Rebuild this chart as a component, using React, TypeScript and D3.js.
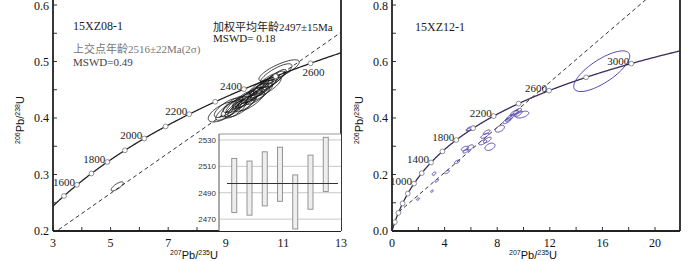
import React from 'react';
import * as d3 from 'd3';

// decay constants (per year)
const L238 = 1.55125e-10;
const L235 = 9.8485e-10;

// left panel: 15XZ08-1
const leftAgeMarks = [1500, 1600, 1700, 1800, 1900, 2000, 2100, 2200, 2300, 2400, 2500, 2600];
const leftAgeLabels = [1600, 1800, 2000, 2200, 2400, 2600];
const leftIntercepts = [790, 2516];
const leftXLabels = [3, 5, 7, 9, 11, 13];
const leftYLabels = [0.2, 0.3, 0.4, 0.5, 0.6];
// [207/235, 206/238, half-width x, half-width y, rho]
const leftEllipses: number[][] = [
  [5.23, 0.279, 0.21, 0.008, 0.76],
  [8.92, 0.411, 0.53, 0.018, 0.66],
  [9.05, 0.418, 0.45, 0.017, 0.75],
  [10.85, 0.484, 0.7, 0.019, 0.79],
  [10.75, 0.478, 0.55, 0.018, 0.8],
  [9.1, 0.414, 0.45, 0.018, 0.82],
  [9.3, 0.42, 0.46, 0.018, 0.8],
  [9.45, 0.426, 0.44, 0.017, 0.84],
  [9.55, 0.421, 0.48, 0.019, 0.82],
  [9.65, 0.432, 0.42, 0.016, 0.85],
  [9.8, 0.436, 0.46, 0.018, 0.84],
  [9.9, 0.43, 0.44, 0.017, 0.83],
  [10.0, 0.444, 0.48, 0.018, 0.85],
  [10.1, 0.44, 0.42, 0.016, 0.82],
  [10.2, 0.45, 0.44, 0.017, 0.86],
  [10.3, 0.454, 0.46, 0.018, 0.84],
  [10.4, 0.459, 0.44, 0.017, 0.85],
  [10.5, 0.456, 0.42, 0.016, 0.82],
  [10.6, 0.466, 0.44, 0.017, 0.86],
  [10.7, 0.47, 0.4, 0.016, 0.85],
  [9.7, 0.426, 0.38, 0.015, 0.8],
  [10.25, 0.446, 0.38, 0.015, 0.82],
  [9.35, 0.416, 0.38, 0.016, 0.78],
  [9.6, 0.434, 0.36, 0.014, 0.84],
  [9.95, 0.441, 0.36, 0.014, 0.84],
  [10.45, 0.465, 0.36, 0.014, 0.85],
  [10.15, 0.455, 0.34, 0.013, 0.84],
  [9.25, 0.424, 0.34, 0.014, 0.8],
];

// inset: weighted mean
const insetAges = [2495.5, 2493.5, 2500.5, 2504, 2483, 2498, 2511.5];
const insetErr = 20.5;
const insetMean = 2497;
const insetYLabels = [2470, 2490, 2510, 2530];

// right panel: 15XZ12-1
const rightAgeMarks = [200, 400, 600, 800, 1000, 1200, 1400, 1600, 1800, 2000, 2200, 2400, 2600, 2800, 3000];
const rightAgeLabels = [1000, 1400, 1800, 2200, 2600, 3000];
const rightIntercepts = [420, 2490];
const rightXLabels = [0, 4, 8, 12, 16, 20];
const rightYLabels = [0.0, 0.2, 0.4, 0.6, 0.8];
const rightEllipses: number[][] = [
  [1.98, 0.113, 0.12, 0.004, 0.5],
  [3.04, 0.141, 0.1, 0.004, 0.5],
  [3.2, 0.203, 0.14, 0.006, 0.5],
  [3.4, 0.178, 0.14, 0.005, 0.6],
  [4.18, 0.209, 0.18, 0.006, 0.6],
  [4.95, 0.245, 0.2, 0.006, 0.6],
  [5.55, 0.292, 0.28, 0.008, 0.5],
  [5.95, 0.296, 0.25, 0.009, 0.5],
  [5.6, 0.283, 0.2, 0.007, 0.6],
  [6.0, 0.363, 0.35, 0.008, 0.6],
  [5.9, 0.36, 0.25, 0.006, 0.7],
  [7.05, 0.337, 0.3, 0.009, 0.7],
  [7.25, 0.322, 0.3, 0.01, 0.7],
  [6.9, 0.314, 0.3, 0.009, 0.6],
  [7.45, 0.298, 0.38, 0.013, 0.4],
  [7.2, 0.35, 0.25, 0.008, 0.7],
  [8.2, 0.362, 0.35, 0.012, 0.5],
  [8.75, 0.39, 0.3, 0.01, 0.7],
  [9.0, 0.403, 0.3, 0.01, 0.7],
  [9.3, 0.418, 0.3, 0.01, 0.7],
  [9.55, 0.424, 0.3, 0.01, 0.7],
  [9.9, 0.412, 0.5, 0.012, 0.5],
  [9.6, 0.415, 0.3, 0.01, 0.7],
  [8.9, 0.396, 0.25, 0.009, 0.8],
  [15.95, 0.5656, 2.13, 0.072, 0.75],
];

const serif = '"Liberation Serif", "Times New Roman", "Noto Sans CJK SC", serif';
const sans = '"Liberation Sans", Arial, sans-serif';

const conc = (t: number) => [Math.exp(L235 * t * 1e6) - 1, Math.exp(L238 * t * 1e6) - 1];

type Scale = d3.ScaleLinear<number, number>;

function ellipsePath(e: number[], x: Scale, y: Scale) {
  const [cx, cy, sx, sy, rho] = e;
  const pts = d3.range(0, 64).map(i => {
    const a = (i / 64) * Math.PI * 2;
    const px = cx + sx * Math.cos(a);
    const py = cy + sy * (rho * Math.cos(a) + Math.sqrt(1 - rho * rho) * Math.sin(a));
    return [x(px), y(py)] as [number, number];
  });
  return d3.line().curve(d3.curveLinearClosed)(pts) || '';
}

function Panel(props: {
  id: string; x: Scale; y: Scale; tMin: number; tMax: number;
  marks: number[]; labels: number[]; special?: number;
  intercepts: number[]; ellipses: number[][]; xLabels: number[]; yLabels: number[];
  xStep: number; yStep: number; curveColor: string; ellColor: string; ellWidth: number;
}) {
  const { id, x, y } = props;
  const [x0, x1] = x.range();
  const [yb] = y.range();
  const curve = d3.range(props.tMin, props.tMax, 5).map(t => {
    const c = conc(t);
    return [x(c[0]), y(c[1])] as [number, number];
  });
  const lo = conc(props.intercepts[0]);
  const hi = conc(props.intercepts[1]);
  const slope = (hi[1] - lo[1]) / (hi[0] - lo[0]);
  const xEnd = x.domain()[1];
  const xStart = Math.max(lo[0], x.domain()[0] - 1);
  const disc: [number, number][] = [
    [x(xStart), y(lo[1] + slope * (xStart - lo[0]))],
    [x(xEnd), y(lo[1] + slope * (xEnd - lo[0]))],
  ];
  const xTicks = d3.range(x.domain()[0], x.domain()[1] + 1e-9, props.xStep);
  const yTicks = d3.range(y.domain()[0], y.domain()[1] + 1e-9, props.yStep);
  return (
    <g>
      <defs>
        <clipPath id={id}>
          <rect x={x0} y={0} width={x1 - x0} height={yb} />
        </clipPath>
      </defs>
      <g clipPath={`url(#${id})`}>
        <path d={d3.line()(disc) || ''} fill="none" stroke="#333" strokeWidth={1} strokeDasharray="4,3" />
        <path d={d3.line()(curve) || ''} fill="none" stroke={props.curveColor} strokeWidth={1.3} />
        {props.ellipses.map((e, i) => (
          <path key={i} d={ellipsePath(e, x, y)} fill="none" stroke={props.ellColor} strokeWidth={props.ellWidth} />
        ))}
        {props.marks.map(t => {
          const c = conc(t);
          return <circle key={t} cx={x(c[0])} cy={y(c[1])} r={2.4} fill="#fff" stroke="#777" strokeWidth={0.8} />;
        })}
      </g>
      {props.labels.map(t => {
        const c = conc(t);
        const mx = x(c[0]);
        const my = y(c[1]);
        const below = t === props.special;
        return (
          <text key={t} x={below ? mx - 8 : mx - 2} y={below ? my + 13 : my + 1}
            textAnchor={below ? 'start' : 'end'} fontFamily={serif} fontSize={11} fill="#222">{t}</text>
        );
      })}
      {/* ticks, inward */}
      {xTicks.map(v => (
        <line key={'xt' + v} x1={x(v)} x2={x(v)} y1={yb} y2={yb - 4} stroke="#333" strokeWidth={1} />
      ))}
      {yTicks.map(v => (
        <line key={'yt' + v} x1={x0} x2={x0 + 4} y1={y(v)} y2={y(v)} stroke="#333" strokeWidth={1} />
      ))}
      <line x1={x0} x2={x0} y1={0} y2={yb} stroke="#222" strokeWidth={1.8} />
      <line x1={x0} x2={x1} y1={yb} y2={yb} stroke="#222" strokeWidth={1.8} />
      <line x1={x1} x2={x1} y1={0} y2={yb} stroke="#222" strokeWidth={1.8} />
      {props.xLabels.map(v => (
        <text key={'xl' + v} x={x(v)} y={yb + 16} textAnchor="middle" fontFamily={serif} fontSize={12} fill="#111">{v}</text>
      ))}
      {props.yLabels.map(v => (
        <text key={'yl' + v} x={x0 - 4} y={Math.max(y(v) + 4, 10)} textAnchor="end" fontFamily={serif} fontSize={12} fill="#111">{v.toFixed(1)}</text>
      ))}
      <text x={(x0 + x1) / 2 - 3} y={yb + 28} textAnchor="middle" fontFamily={sans} fontSize={11} fill="#111">
        <tspan fontSize={7} dy={-4}>207</tspan><tspan dy={4}>Pb/</tspan><tspan fontSize={7} dy={-4}>235</tspan><tspan dy={4}>U</tspan>
      </text>
      <text transform={`translate(${x0 - 29},${120}) rotate(-90)`} textAnchor="middle" fontFamily={sans} fontSize={11} fill="#111">
        <tspan fontSize={7} dy={-4}>206</tspan><tspan dy={4}>Pb/</tspan><tspan fontSize={7} dy={-4}>238</tspan><tspan dy={4}>U</tspan>
      </text>
    </g>
  );
}

function Inset() {
  const x0 = 219, x1 = 341, yTop = 134, yBot = 231;
  const x = d3.scalePoint<number>().domain(insetAges.map((_, i) => i)).range([x0, x1]).padding(1);
  const y = d3.scaleLinear().domain([2461, 2534.5]).range([yBot, yTop]);
  return (
    <g>
      <rect x={x0} y={yTop} width={x1 - x0} height={yBot - yTop} fill="#fff" />
      <line x1={x0} x2={x1} y1={yTop} y2={yTop} stroke="#999" strokeWidth={1} />
      {insetYLabels.map(v => (
        <g key={v}>
          <line x1={x0} x2={x1} y1={y(v)} y2={y(v)} stroke="#c8c8c8" strokeWidth={1} />
          <text x={x0 - 3} y={y(v) + 3} textAnchor="end" fontFamily={sans} fontSize={8} fill="#333">{v}</text>
        </g>
      ))}
      {insetAges.map((a, i) => (
        <rect key={i} x={(x(i) || 0) - 2.5} width={5} y={y(a + insetErr)} height={y(a - insetErr) - y(a + insetErr)}
          fill="#eeeeee" stroke="#8a8a8a" strokeWidth={0.9} />
      ))}
      <line x1={x0 + 8} x2={x1 - 3} y1={y(insetMean)} y2={y(insetMean)} stroke="#333" strokeWidth={1.2} />
      <line x1={x0} x2={x0} y1={yTop} y2={yBot} stroke="#555" strokeWidth={1} />
    </g>
  );
}

export default function App() {
  const xL = d3.scaleLinear().domain([3, 13]).range([53, 341]);
  const yL = d3.scaleLinear().domain([0.2, 0.6]).range([231, 5]);
  const xR = d3.scaleLinear().domain([0, 21.9]).range([392, 680]);
  const yR = d3.scaleLinear().domain([0, 0.8]).range([231, 5]);
  return (
    <svg width={700} height={261} style={{ position: 'absolute', left: 0, top: 0, background: '#fff' }}>
      <rect width={700} height={261} fill="#fff" />
      <Panel id="clipL" x={xL} y={yL} tMin={1350} tMax={2750} marks={leftAgeMarks} labels={leftAgeLabels}
        special={2600} intercepts={leftIntercepts} ellipses={leftEllipses} xLabels={leftXLabels} yLabels={leftYLabels}
        xStep={1} yStep={0.05} curveColor="#222" ellColor="#111" ellWidth={0.8} />
      <Inset />
      <text x={73} y={30} fontFamily={serif} fontSize={12} fill="#222">15XZ08-1</text>
      <text x={73} y={53} fontFamily={serif} fontSize={11} fill="#777">上交点年龄2516±22Ma(2σ)</text>
      <text x={73} y={66} fontFamily={serif} fontSize={11} fill="#444">MSWD=0.49</text>
      <text x={213} y={31} fontFamily={serif} fontSize={11} fill="#222">加权平均年龄2497±15Ma</text>
      <text x={213} y={42} fontFamily={serif} fontSize={11} fill="#222">MSWD= 0.18</text>
      <Panel id="clipR" x={xR} y={yR} tMin={0} tMax={3300} marks={rightAgeMarks} labels={rightAgeLabels}
        intercepts={rightIntercepts} ellipses={rightEllipses} xLabels={rightXLabels} yLabels={rightYLabels}
        xStep={2} yStep={0.1} curveColor="#3c2a5c" ellColor="#5546b0" ellWidth={1} />
      <text x={415} y={31} fontFamily={serif} fontSize={12} fill="#222">15XZ12-1</text>
    </svg>
  );
}
